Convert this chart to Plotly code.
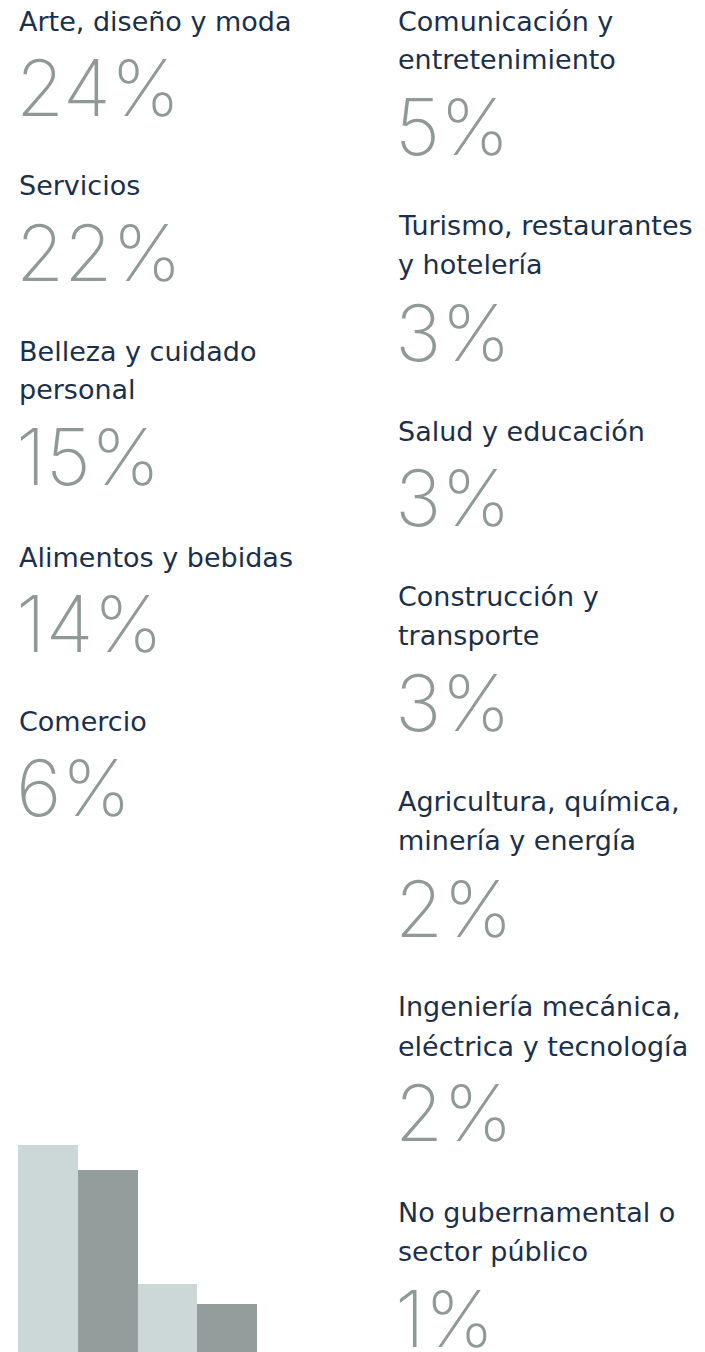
import plotly.graph_objects as go

# ---- data ----
left_categories = ["Arte, diseño y moda", "Servicios", "Belleza y cuidado<br>personal",
                   "Alimentos y bebidas", "Comercio"]
left_values = [24, 22, 15, 14, 6]

right_categories = ["Comunicación y<br>entretenimiento", "Turismo, restaurantes<br>y hotelería",
                    "Salud y educación", "Construcción y<br>transporte",
                    "Agricultura, química,<br>minería y energía",
                    "Ingeniería mecánica,<br>eléctrica y tecnología",
                    "No gubernamental o<br>sector público"]
right_values = [5, 3, 3, 3, 2, 2, 1]

bar_categories = ["a", "b", "c", "d"]
bar_values = [100, 88, 33, 23]

# ---- layout ----
W, H = 705, 1352
LABEL_COLOR = "#1b2f4a"
NUM_COLOR = "#8f9a98"
LABEL_FONT = "DejaVu Sans"
LABEL_SIZE = 27
NUM_FONT = "Inter"
NUM_SIZE = 78

# measured baselines (px from page top)
left_label_baselines = [[32], [196], [362, 400], [568], [732]]
left_num_baselines = [117, 282, 486, 653, 817]
right_label_baselines = [[32, 70], [236, 275], [442], [607, 646], [812, 851], [1017, 1057], [1223, 1262]]
right_num_baselines = [156, 362, 527, 732, 938, 1142, 1348]

LABEL_DESC = 0.236
NUM_DESC = 0.24


def ypaper(px):
    return 1 - px / H


def xpaper(px):
    return px / W


annotations = []


def add_column(x_px, cats, vals, lbases, nbases):
    for cat, val, lb, nb in zip(cats, vals, lbases, nbases):
        for line, b in zip(cat.split("<br>"), lb):
            annotations.append(dict(
                x=xpaper(x_px - 1), y=ypaper(b + LABEL_DESC * LABEL_SIZE + 1),
                xref="paper", yref="paper", xanchor="left", yanchor="bottom",
                text=line, showarrow=False,
                font=dict(family=LABEL_FONT, size=LABEL_SIZE, color=LABEL_COLOR)))
        annotations.append(dict(
            x=xpaper(x_px - 4), y=ypaper(nb + NUM_DESC * NUM_SIZE + 1),
            xref="paper", yref="paper", xanchor="left", yanchor="bottom",
            text=f"{val}%", showarrow=False,
            font=dict(family=NUM_FONT, size=NUM_SIZE, color=NUM_COLOR, weight=200)))


add_column(18, left_categories, left_values, left_label_baselines, left_num_baselines)
add_column(397, right_categories, right_values, right_label_baselines, right_num_baselines)

fig = go.Figure(go.Bar(
    x=bar_categories, y=bar_values,
    marker=dict(color=["#ccd8d8", "#929d9c", "#ccd8d8", "#929d9c"], line=dict(width=0)),
    hoverinfo="skip",
))

fig.update_layout(
    width=W, height=H,
    margin=dict(l=0, r=0, t=0, b=0),
    paper_bgcolor="white", plot_bgcolor="white",
    bargap=0, showlegend=False,
    xaxis=dict(domain=[xpaper(18), xpaper(257)], visible=False, fixedrange=True),
    yaxis=dict(domain=[0, 207 / H], range=[0, 100], visible=False, fixedrange=True),
    annotations=annotations,
)

fig.write_html("out.html", config={"displayModeBar": False},
               post_script="document.body.style.margin='0';document.body.style.overflow='hidden';")
